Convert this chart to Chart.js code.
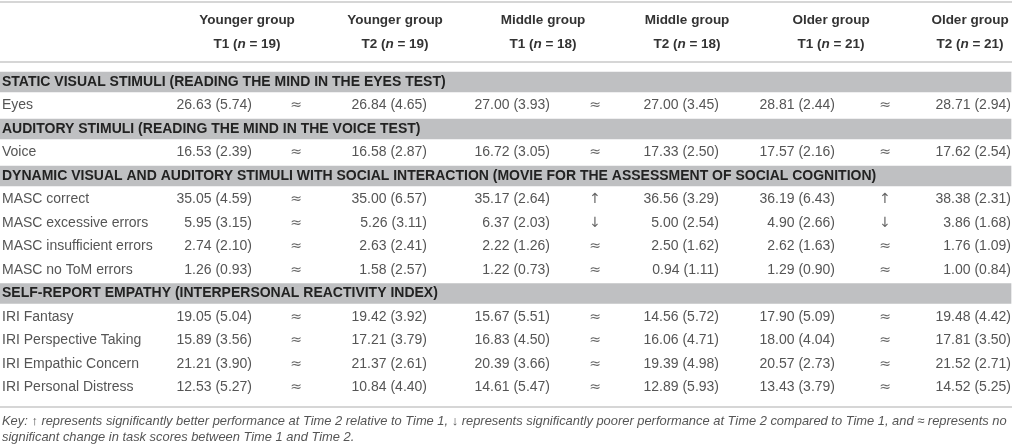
<!DOCTYPE html>
<html>
<head>
<meta charset="utf-8">
<script src="https://cdn.jsdelivr.net/npm/chart.js@4.4.1/dist/chart.umd.min.js"></script>
<style>
  html, body { margin: 0; background: #fff; }
  #wrap { width: 1016px; height: 448px; position: relative; }
</style>
</head>
<body>
<div id="wrap"><canvas id="tbl"></canvas></div>
<script>
// column headers
const groups = ['Younger group', 'Younger group', 'Middle group', 'Middle group', 'Older group', 'Older group'];
const times = ['T1', 'T2', 'T1', 'T2', 'T1', 'T2'];
const ns = [19, 19, 18, 18, 21, 21];

// row structure
const sections = [
    'STATIC VISUAL STIMULI (READING THE MIND IN THE EYES TEST)',
    'AUDITORY STIMULI (READING THE MIND IN THE VOICE TEST)',
    'DYNAMIC VISUAL AND AUDITORY STIMULI WITH SOCIAL INTERACTION (MOVIE FOR THE ASSESSMENT OF SOCIAL COGNITION)',
    'SELF-REPORT EMPATHY (INTERPERSONAL REACTIVITY INDEX)'
];
const measures = ['Eyes', 'Voice', 'MASC correct', 'MASC excessive errors', 'MASC insufficient errors',
    'MASC no ToM errors', 'IRI Fantasy', 'IRI Perspective Taking', 'IRI Empathic Concern', 'IRI Personal Distress'];
const measureSection = [0, 1, 2, 2, 2, 2, 3, 3, 3, 3];

// means and SDs per group / time
const youngerT1M  = [26.63, 16.53, 35.05, 5.95, 2.74, 1.26, 19.05, 15.89, 21.21, 12.53];
const youngerT1SD = [5.74, 2.39, 4.59, 3.15, 2.10, 0.93, 5.04, 3.56, 3.90, 5.27];
const youngerT2M  = [26.84, 16.58, 35.00, 5.26, 2.63, 1.58, 19.42, 17.21, 21.37, 10.84];
const youngerT2SD = [4.65, 2.87, 6.57, 3.11, 2.41, 2.57, 3.92, 3.79, 2.61, 4.40];
const middleT1M   = [27.00, 16.72, 35.17, 6.37, 2.22, 1.22, 15.67, 16.83, 20.39, 14.61];
const middleT1SD  = [3.93, 3.05, 2.64, 2.03, 1.26, 0.73, 5.51, 4.50, 3.66, 5.47];
const middleT2M   = [27.00, 17.33, 36.56, 5.00, 2.50, 0.94, 14.56, 16.06, 19.39, 12.89];
const middleT2SD  = [3.45, 2.50, 3.29, 2.54, 1.62, 1.11, 5.72, 4.71, 4.98, 5.93];
const olderT1M    = [28.81, 17.57, 36.19, 4.90, 2.62, 1.29, 17.90, 18.00, 20.57, 13.43];
const olderT1SD   = [2.44, 2.16, 6.43, 2.66, 1.63, 0.90, 5.09, 4.04, 2.73, 3.79];
const olderT2M    = [28.71, 17.62, 38.38, 3.86, 1.76, 1.00, 19.48, 17.81, 21.52, 14.52];
const olderT2SD   = [2.94, 2.54, 2.31, 1.68, 1.09, 0.84, 4.42, 3.50, 2.71, 5.25];

// change T1 -> T2
const youngerChange = ['≈', '≈', '≈', '≈', '≈', '≈', '≈', '≈', '≈', '≈'];
const middleChange  = ['≈', '≈', '↑', '↓', '≈', '≈', '≈', '≈', '≈', '≈'];
const olderChange   = ['≈', '≈', '↑', '↓', '≈', '≈', '≈', '≈', '≈', '≈'];

const keyLines = [
    'Key: ↑ represents significantly better performance at Time 2 relative to Time 1, ↓ represents significantly poorer performance at Time 2 compared to Time 1, and ≈ represents no',
    'significant change in task scores between Time 1 and Time 2.'
];

const means = [youngerT1M, youngerT2M, middleT1M, middleT2M, olderT1M, olderT2M];
const sds = [youngerT1SD, youngerT2SD, middleT1SD, middleT2SD, olderT1SD, olderT2SD];
const changes = [youngerChange, middleChange, olderChange];

// build table rows: section band followed by its measures
const rows = [];
sections.forEach((s, si) => {
    rows.push({ type: 'section', label: s });
    measureSection.forEach((ms, mi) => {
        if (ms === si) rows.push({ type: 'measure', label: measures[mi], idx: mi });
    });
});

// layout (x in scale units = px)
const TABLE_END = 1011;
const valRight = [252, 427, 550, 719, 835, 1011];
const symCenter = [296, 595, 885];
const headCenter = [247, 395, 543, 687, 831, 970];
const FONT = '"Liberation Sans", Arial, sans-serif';
const SYM_FONT = '14px "DejaVu Sans", sans-serif';

const tablePlugin = {
    id: 'tableText',
    afterDatasetsDraw(chart) {
        const { ctx, scales: { x, y } } = chart;
        ctx.save();

        // rules
        ctx.strokeStyle = '#c9c9c9';
        ctx.lineWidth = 1.5;
        [2, 62, 407].forEach(ly => {
            ctx.beginPath();
            ctx.moveTo(x.getPixelForValue(0), ly);
            ctx.lineTo(x.getPixelForValue(TABLE_END + 1), ly);
            ctx.stroke();
        });

        // headers
        ctx.textBaseline = 'middle';
        ctx.fillStyle = '#333';
        groups.forEach((g, c) => {
            const cx = x.getPixelForValue(headCenter[c]);
            ctx.font = 'bold 13.5px ' + FONT;
            ctx.textAlign = 'center';
            ctx.fillText(g, cx, 20);
            const parts = [
                [times[c] + ' (', 'bold 13.5px '],
                ['n', 'italic bold 13.5px '],
                [' = ' + ns[c] + ')', 'bold 13.5px ']
            ];
            let w = 0;
            parts.forEach(p => { ctx.font = p[1] + FONT; w += ctx.measureText(p[0]).width; });
            let sx = cx - w / 2;
            ctx.textAlign = 'left';
            parts.forEach(p => {
                ctx.font = p[1] + FONT;
                ctx.fillText(p[0], sx, 44);
                sx += ctx.measureText(p[0]).width;
            });
        });

        // body
        rows.forEach((r, i) => {
            const ry = y.getPixelForValue(i);
            if (r.type === 'section') {
                ctx.font = 'bold 14px ' + FONT;
                ctx.fillStyle = '#222';
                ctx.textAlign = 'left';
                ctx.fillText(r.label, x.getPixelForValue(2), ry);
                return;
            }
            ctx.font = '14px ' + FONT;
            ctx.fillStyle = '#555';
            ctx.textAlign = 'left';
            ctx.fillText(r.label, x.getPixelForValue(2), ry);
            ctx.textAlign = 'right';
            means.forEach((m, c) => {
                ctx.fillText(m[r.idx].toFixed(2) + ' (' + sds[c][r.idx].toFixed(2) + ')',
                    x.getPixelForValue(valRight[c]), ry);
            });
            ctx.font = SYM_FONT;
            ctx.fillStyle = '#666';
            ctx.textAlign = 'center';
            changes.forEach((ch, k) => {
                ctx.fillText(ch[r.idx], x.getPixelForValue(symCenter[k]), ry);
            });
        });

        // key
        ctx.font = 'italic 12.9px ' + FONT;
        ctx.fillStyle = '#555';
        ctx.textAlign = 'left';
        keyLines.forEach((t, k) => ctx.fillText(t, x.getPixelForValue(2), 421 + k * 16.5));

        ctx.restore();
    }
};

new Chart(document.getElementById('tbl'), {
    type: 'bar',
    data: {
        labels: rows.map(r => r.label),
        datasets: [{
            // grey bands behind section titles
            data: rows.map(r => r.type === 'section' ? [0, TABLE_END] : null),
            backgroundColor: '#bfc0c2',
            borderWidth: 0,
            borderSkipped: false,
            barThickness: 20
        }]
    },
    options: {
        indexAxis: 'y',
        responsive: true,
        maintainAspectRatio: false,
        animation: false,
        layout: { padding: { top: 70.25, bottom: 48.75, left: 0, right: 0 } },
        scales: {
            x: { type: 'linear', min: 0, max: 1016, display: false },
            y: { type: 'category', offset: true, display: false }
        },
        plugins: { legend: { display: false }, tooltip: { enabled: false } }
    },
    plugins: [tablePlugin]
});
</script>
</body>
</html>
